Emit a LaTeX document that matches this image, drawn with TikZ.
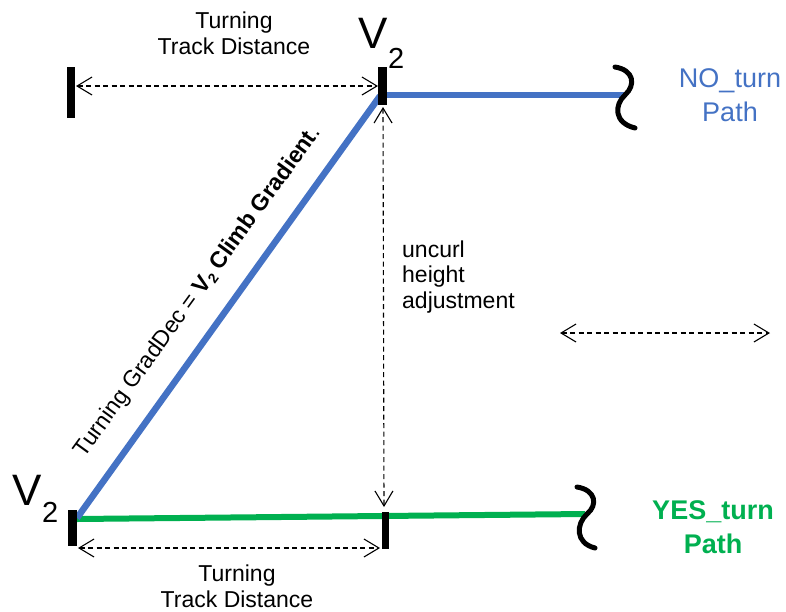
\documentclass[tikz,border=0pt]{standalone}
\usepackage{fontspec}
\setmainfont{Liberation Sans}
\usetikzlibrary{arrows.meta}
\definecolor{pathblue}{HTML}{4472C4}
\definecolor{pathgreen}{HTML}{00B050}
\begin{document}
\begin{tikzpicture}[x=1pt,y=-1pt,
  tickmark/.style={line width=8.5pt},
  dimline/.style={dash pattern=on 5pt off 3.5pt, line width=1.1pt,
    {Straight Barb[length=15pt,width=18pt,line width=1.1pt]}-{Straight Barb[length=15pt,width=18pt,line width=1.1pt]}},
  squig/.style={line width=5pt, line cap=round},
  lbl/.style={font=\fontsize{23}{25.5}\selectfont, align=center, inner sep=0pt},
  biglbl/.style={font=\fontsize{44}{44}\selectfont, inner sep=0pt},
  sublbl/.style={font=\fontsize{29}{29}\selectfont, inner sep=0pt},
  pathlbl/.style={font=\fontsize{27}{34}\selectfont, align=center, inner sep=0pt},
]
\useasboundingbox (0,0) rectangle (786,611);

% tick coordinates
\coordinate (TLt) at (71,67);   \coordinate (TLb) at (71,118);
\coordinate (TMt) at (382.5,67); \coordinate (TMb) at (382.5,105);
\coordinate (BLt) at (72.5,510); \coordinate (BLb) at (72.5,546);
\coordinate (BMt) at (385,512);  \coordinate (BMb) at (385,549);

% path coordinates
\coordinate (diagA) at (77,518);
\coordinate (diagB) at (380,96);
\coordinate (blueA) at (385,95);
\coordinate (blueB) at (625,95);
\coordinate (greenA) at (77,519);
\coordinate (greenB) at (585,514);

% dimension end points
\coordinate (dTa) at (76,86);   \coordinate (dTb) at (378,86);
\coordinate (dBa) at (78,548);  \coordinate (dBb) at (380,548);
\coordinate (dVa) at (383,107); \coordinate (dVb) at (384,507);
\coordinate (dRa) at (560,333); \coordinate (dRb) at (770,333);

% coloured paths
\draw[pathgreen, line width=6pt] (greenA) -- (greenB);
\draw[pathblue, line width=6.5pt] (diagA) -- (diagB);
\draw[pathblue, line width=6pt] (blueA) -- (blueB);

% ticks
\draw[tickmark] (TLt) -- (TLb);
\draw[tickmark] (TMt) -- (TMb);
\draw[tickmark] (BLt) -- (BLb);
\draw[tickmark, line width=7pt] (BMt) -- (BMb);

% squiggles
\coordinate (sqNa) at (615,67);
\coordinate (sqNm) at (625,95);
\coordinate (sqNb) at (635,128);
\draw[squig] (sqNa) .. controls (634,70) and (636,85) .. (sqNm)
  .. controls (614,105) and (614,123) .. (sqNb);
\coordinate (sqYa) at (577,487);
\coordinate (sqYm) at (587,514);
\coordinate (sqYb) at (595,548);
\draw[squig] (sqYa) .. controls (596,490) and (598,505) .. (sqYm)
  .. controls (576,524) and (575,543) .. (sqYb);

% dimension arrows
\draw[dimline] (dTa) -- (dTb);
\draw[dimline] (dBa) -- (dBb);
\draw[dimline] (dVa) -- (dVb);
\draw[dimline] (dRa) -- (dRb);

% labels (anchor=base is the baseline of the last line)
\node[lbl, anchor=base] (topdist) at (234,54) {Turning\\Track Distance};
\node[lbl, anchor=base] (botdist) at (237,607) {Turning\\Track Distance};
\node[lbl, anchor=base west, align=left] (uncurl) at (402,308) {uncurl\\height\\adjustment};

\node[biglbl, anchor=base west] (vtop) at (358,48) {V};
\node[sublbl, anchor=base west] (vtopsub) at (388,68) {2};
\node[biglbl, anchor=base west] (vbot) at (12,505) {V};
\node[sublbl, anchor=base west] (vbotsub) at (42,522) {2};

\node[pathlbl, text=pathblue, anchor=base] (noturn) at (730,121) {NO\_turn\\Path};
\node[pathlbl, text=pathgreen, anchor=base, font=\fontsize{27}{34}\selectfont\bfseries] (yesturn) at (713,553) {YES\_turn\\Path};

\node[font=\fontsize{23}{23}\selectfont, inner sep=0pt, rotate=54] (grad) at (198,292)
  {Turning GradDec = \textbf{V\raisebox{-0.15em}{\fontsize{14}{14}\selectfont 2} Climb Gradient}.};
\end{tikzpicture}
\end{document}
